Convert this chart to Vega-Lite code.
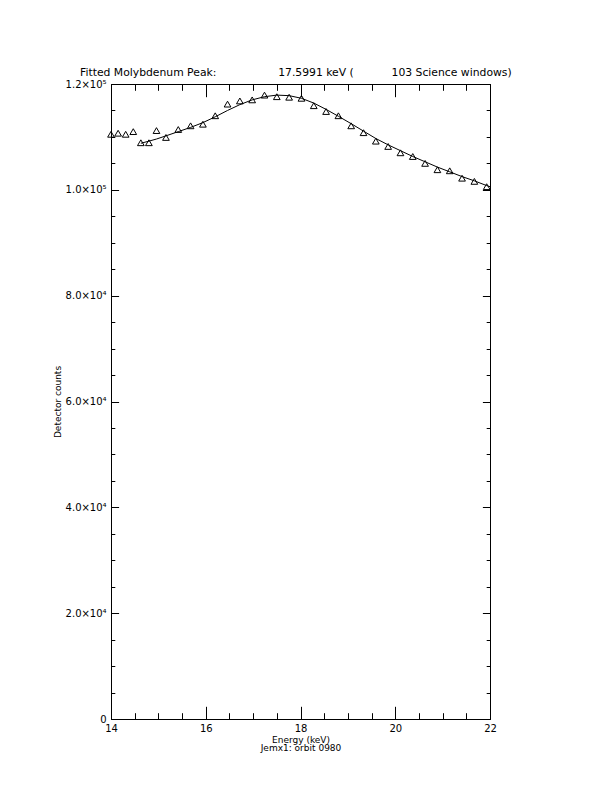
{
  "$schema": "https://vega.github.io/schema/vega-lite/v6.json",
  "width": 379,
  "height": 635,
  "autosize": {"type": "none"},
  "padding": {"left": 111, "top": 84, "right": 122, "bottom": 73},
  "background": "white",
  "title": {
    "text": "Fitted Molybdenum Peak:\u00a0\u00a0\u00a0\u00a0\u00a0\u00a0\u00a0\u00a0\u00a0\u00a0\u00a0\u00a0\u00a0\u00a0\u00a0\u00a0\u00a0\u00a017.5991 keV (\u00a0\u00a0\u00a0\u00a0\u00a0\u00a0\u00a0\u00a0\u00a0\u00a0\u00a0103 Science windows)",
    "font": "DejaVu Sans",
    "fontSize": 10.8,
    "fontWeight": "normal",
    "color": "black",
    "anchor": "start",
    "frame": "group",
    "dx": -31,
    "offset": 1
  },
  "datasets": {
    "obs": [
      {"energy": 14.00, "counts": 110500},
      {"energy": 14.15, "counts": 110700},
      {"energy": 14.31, "counts": 110500},
      {"energy": 14.47, "counts": 111000},
      {"energy": 14.63, "counts": 108900},
      {"energy": 14.80, "counts": 108900},
      {"energy": 14.96, "counts": 111200},
      {"energy": 15.16, "counts": 109900},
      {"energy": 15.42, "counts": 111400},
      {"energy": 15.68, "counts": 112100},
      {"energy": 15.94, "counts": 112400},
      {"energy": 16.20, "counts": 114000},
      {"energy": 16.46, "counts": 116200},
      {"energy": 16.72, "counts": 116800},
      {"energy": 16.98, "counts": 117000},
      {"energy": 17.24, "counts": 117900},
      {"energy": 17.50, "counts": 117600},
      {"energy": 17.76, "counts": 117500},
      {"energy": 18.02, "counts": 117300},
      {"energy": 18.28, "counts": 115900},
      {"energy": 18.54, "counts": 114800},
      {"energy": 18.80, "counts": 114000},
      {"energy": 19.07, "counts": 112100},
      {"energy": 19.33, "counts": 110800},
      {"energy": 19.59, "counts": 109200},
      {"energy": 19.85, "counts": 108200},
      {"energy": 20.11, "counts": 107000},
      {"energy": 20.37, "counts": 106300},
      {"energy": 20.63, "counts": 105000},
      {"energy": 20.89, "counts": 103800},
      {"energy": 21.15, "counts": 103600},
      {"energy": 21.41, "counts": 102200},
      {"energy": 21.67, "counts": 101600},
      {"energy": 21.93, "counts": 100600}
    ],
    "fit": [
      {"energy": 14.63, "counts": 108800},
      {"energy": 14.80, "counts": 109200},
      {"energy": 14.96, "counts": 109600},
      {"energy": 15.16, "counts": 110200},
      {"energy": 15.42, "counts": 111000},
      {"energy": 15.68, "counts": 111800},
      {"energy": 15.94, "counts": 112700},
      {"energy": 16.20, "counts": 113800},
      {"energy": 16.46, "counts": 115000},
      {"energy": 16.72, "counts": 116100},
      {"energy": 16.98, "counts": 117000},
      {"energy": 17.24, "counts": 117600},
      {"energy": 17.50, "counts": 117900},
      {"energy": 17.76, "counts": 117800},
      {"energy": 18.02, "counts": 117300},
      {"energy": 18.28, "counts": 116400},
      {"energy": 18.54, "counts": 115200},
      {"energy": 18.80, "counts": 113900},
      {"energy": 19.07, "counts": 112500},
      {"energy": 19.33, "counts": 111100},
      {"energy": 19.59, "counts": 109700},
      {"energy": 19.85, "counts": 108500},
      {"energy": 20.11, "counts": 107400},
      {"energy": 20.37, "counts": 106300},
      {"energy": 20.63, "counts": 105300},
      {"energy": 20.89, "counts": 104300},
      {"energy": 21.15, "counts": 103400},
      {"energy": 21.41, "counts": 102500},
      {"energy": 21.67, "counts": 101700},
      {"energy": 21.93, "counts": 100800},
      {"energy": 22.00, "counts": 100600}
    ]
  },
  "config": {
    "view": {"stroke": "black", "strokeWidth": 1},
    "axis": {
      "domainColor": "black",
      "domainWidth": 1,
      "tickColor": "black",
      "tickWidth": 1,
      "grid": false,
      "labelColor": "black",
      "labelFont": "DejaVu Sans",
      "labelFontSize": 10,
      "titleColor": "black",
      "titleFont": "DejaVu Sans",
      "titleFontSize": 9,
      "titleFontWeight": "normal",
      "labelFlush": false,
      "labelOverlap": false
    }
  },
  "resolve": {"axis": {"x": "independent", "y": "independent"}},
  "layer": [
    {
      "data": {"name": "obs"},
      "mark": {"type": "point", "shape": "triangle-up", "filled": false, "color": "black", "strokeWidth": 1, "size": 45, "opacity": 1},
      "encoding": {
        "x": {
          "field": "energy", "type": "quantitative",
          "scale": {"domain": [14, 22], "nice": false, "zero": false},
          "axis": {
            "orient": "bottom",
            "values": [14, 14.5, 15, 15.5, 16, 16.5, 17, 17.5, 18, 18.5, 19, 19.5, 20, 20.5, 21, 21.5, 22],
            "labelExpr": "datum.value % 2 == 0 ? format(datum.value, 'd') : ''",
            "tickSize": {"condition": {"test": "datum.value % 2 == 0", "value": -12.7}, "value": -6.3},
            "labelPadding": 17.5,
            "title": ["Energy (keV)", "Jemx1: orbit 0980"],
            "titleLineHeight": 8.5,
            "titlePadding": -5
          }
        },
        "y": {
          "field": "counts", "type": "quantitative",
          "scale": {"domain": [0, 120000], "nice": false},
          "axis": {
            "orient": "left",
            "values": [0, 5000, 10000, 15000, 20000, 25000, 30000, 35000, 40000, 45000, 50000, 55000, 60000, 65000, 70000, 75000, 80000, 85000, 90000, 95000, 100000, 105000, 110000, 115000, 120000],
            "labelExpr": "datum.value == 0 ? '0' : (datum.value % 20000 != 0 ? '' : (datum.value >= 100000 ? format(datum.value / 100000, '.1f') + '×10⁵' : format(datum.value / 10000, '.1f') + '×10⁴'))",
            "tickSize": {"condition": {"test": "datum.value % 20000 == 0", "value": -7.6}, "value": -3.8},
            "labelPadding": 12.5,
            "title": "Detector counts",
            "titlePadding": 3
          }
        }
      }
    },
    {
      "data": {"name": "fit"},
      "mark": {"type": "line", "color": "black", "strokeWidth": 1},
      "encoding": {
        "x": {
          "field": "energy", "type": "quantitative",
          "axis": {
            "orient": "top",
            "values": [14, 14.5, 15, 15.5, 16, 16.5, 17, 17.5, 18, 18.5, 19, 19.5, 20, 20.5, 21, 21.5, 22],
            "labels": false,
            "title": null,
            "tickSize": {"condition": {"test": "datum.value % 2 == 0", "value": -12.7}, "value": -6.3}
          }
        },
        "y": {
          "field": "counts", "type": "quantitative",
          "axis": {
            "orient": "right",
            "values": [0, 5000, 10000, 15000, 20000, 25000, 30000, 35000, 40000, 45000, 50000, 55000, 60000, 65000, 70000, 75000, 80000, 85000, 90000, 95000, 100000, 105000, 110000, 115000, 120000],
            "labels": false,
            "title": null,
            "tickSize": {"condition": {"test": "datum.value % 20000 == 0", "value": -7.6}, "value": -3.8}
          }
        }
      }
    }
  ]
}
